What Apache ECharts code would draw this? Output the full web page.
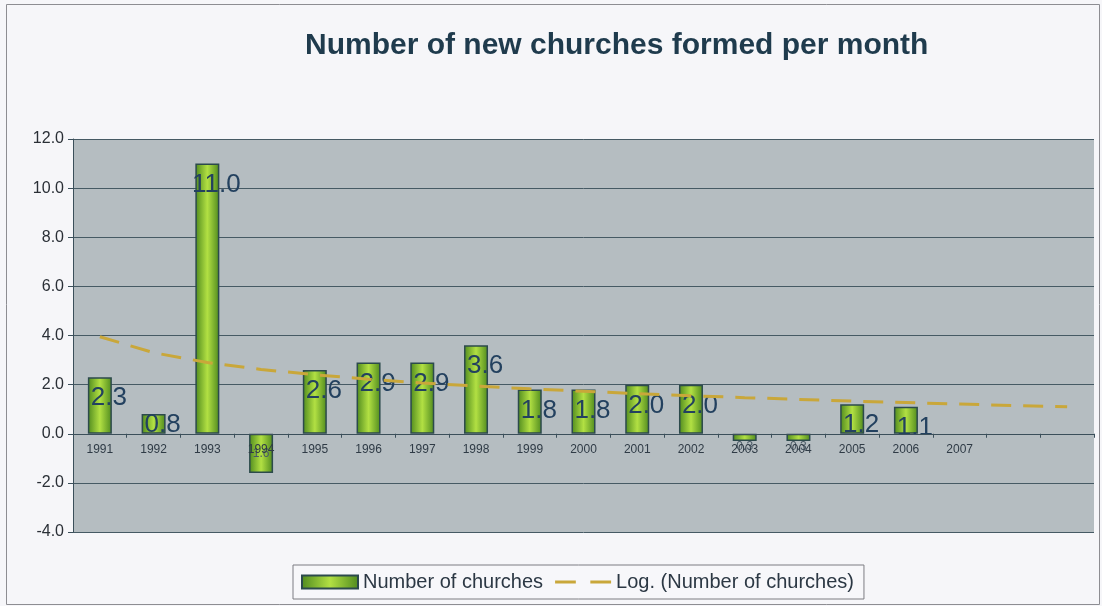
<!DOCTYPE html>
<html>
<head>
<meta charset="utf-8">
<script src="https://cdn.jsdelivr.net/npm/echarts@6/dist/echarts.min.js"></script>
<style>
html,body{margin:0;padding:0;background:#f6f6f9;}
#c{width:1102px;height:606px;}
</style>
</head>
<body>
<div id="c"></div>
<script>
// ---- data ----
const categories = ['1991','1992','1993','1994','1995','1996','1997','1998','1999','2000','2001','2002','2003','2004','2005','2006','2007','',''];
const churches = [2.3, 0.8, 11.0, -1.6, 2.6, 2.9, 2.9, 3.6, 1.8, 1.8, 2.0, 2.0, -0.3, -0.3, 1.2, 1.1, null, null, null];
const logTrend = [3.95, 3.30, 2.90, 2.62, 2.40, 2.22, 2.07, 1.94, 1.83, 1.73, 1.63, 1.55, 1.47, 1.40, 1.33, 1.27, 1.21, 1.15, 1.10];
const yTicks = { min: -4, max: 12, interval: 2 };
const titleText = 'Number of new churches formed per month';
const seriesNames = ['Number of churches', 'Log. (Number of churches)'];

const chart = echarts.init(document.getElementById('c'), null, { renderer: 'canvas' });

const gridTop = 139, gridBottom = 74, chartH = 606;
const plotH = chartH - gridTop - gridBottom;
// shift the category axis from the bottom edge up to the zero line of the value axis
const zeroOffset = -plotH * (0 - yTicks.min) / (yTicks.max - yTicks.min);

const barGradient = new echarts.graphic.LinearGradient(0, 0, 1, 0, [
  { offset: 0, color: '#4f8a1e' },
  { offset: 0.5, color: '#b2e043' },
  { offset: 1, color: '#4f8a1e' }
]);

const barData = churches.map(function (v) {
  if (v == null) return { value: null };
  if (v < 0) {
    return {
      value: v,
      label: {
        position: 'inside',
        fontSize: 12,
        color: '#4a5a66',
        offset: v > -1 ? [0, 9] : [0, 0]
      }
    };
  }
  if (v < 1) {
    return { value: v, label: { offset: [9, -10] } };
  }
  return { value: v };
});

const option = {
  backgroundColor: '#f6f6f9',
  animation: false,
  title: {
    text: titleText,
    left: 300,
    top: 26,
    textStyle: {
      fontFamily: 'Liberation Sans, Arial, sans-serif',
      fontSize: 30,
      fontWeight: 'bold',
      color: '#1f3b4d'
    }
  },
  graphic: [{
    type: 'rect',
    shape: { x: 6.5, y: 4.5, width: 1093, height: 600 },
    style: { fill: 'none', stroke: '#8d8d92', lineWidth: 1 },
    silent: true,
    z: 0
  }],
  legend: {
    left: 293,
    top: 565,
    padding: [7, 10, 7, 8],
    itemGap: 12,
    itemWidth: 56,
    itemHeight: 13,
    borderColor: '#7d7d82',
    borderWidth: 1,
    backgroundColor: '#f7f7fa',
    textStyle: {
      fontFamily: 'Liberation Sans, Arial, sans-serif',
      fontSize: 20,
      color: '#2c3844'
    },
    data: [
      { name: seriesNames[0], icon: 'rect' },
      { name: seriesNames[1], icon: 'path://M0,0 L20,0 L20,3 L0,3 Z M34,0 L54,0 L54,3 L34,3 Z' }
    ]
  },
  grid: {
    left: 73,
    right: 8,
    top: gridTop,
    bottom: gridBottom,
    show: true,
    backgroundColor: '#b5bdc1',
    borderWidth: 0
  },
  xAxis: {
    type: 'category',
    data: categories,
    boundaryGap: true,
    position: 'bottom',
    offset: zeroOffset,
    z: 5,
    axisLine: { show: true, onZero: false, lineStyle: { color: '#3b4f5a', width: 1 } },
    axisTick: { show: true, length: 4, lineStyle: { color: '#3b4f5a' } },
    axisLabel: {
      interval: 0,
      margin: 10,
      fontFamily: 'Liberation Sans, Arial, sans-serif',
      fontSize: 12,
      color: '#2f3b46'
    }
  },
  yAxis: {
    type: 'value',
    min: yTicks.min,
    max: yTicks.max,
    interval: yTicks.interval,
    axisLine: { show: true, onZero: false, lineStyle: { color: '#3b4f5a', width: 1 } },
    axisTick: { show: true, length: 5, lineStyle: { color: '#3b4f5a' } },
    splitLine: { show: true, lineStyle: { color: '#465a64', width: 1 } },
    axisLabel: {
      margin: 9,
      fontFamily: 'Liberation Sans, Arial, sans-serif',
      fontSize: 16,
      color: '#2a2f36',
      formatter: function (v) { return v.toFixed(1); }
    }
  },
  series: [
    {
      name: seriesNames[0],
      type: 'bar',
      data: barData,
      barWidth: 24,
      itemStyle: {
        color: barGradient,
        borderColor: '#2c4a4c',
        borderWidth: 1.5
      },
      label: {
        show: true,
        position: 'insideTop',
        distance: 8,
        offset: [9, 0],
        fontFamily: 'Liberation Sans, Arial, sans-serif',
        fontSize: 26,
        color: '#23415f',
        formatter: function (p) {
          return p.value == null ? '' : Math.abs(p.value).toFixed(1);
        }
      },
      z: 2
    },
    {
      name: seriesNames[1],
      type: 'line',
      data: logTrend,
      symbol: 'none',
      smooth: false,
      lineStyle: { color: '#c9a73a', width: 3, type: [20, 12] },
      itemStyle: { color: '#c9a73a' },
      z: 3
    }
  ]
};

chart.setOption(option);
</script>
</body>
</html>
